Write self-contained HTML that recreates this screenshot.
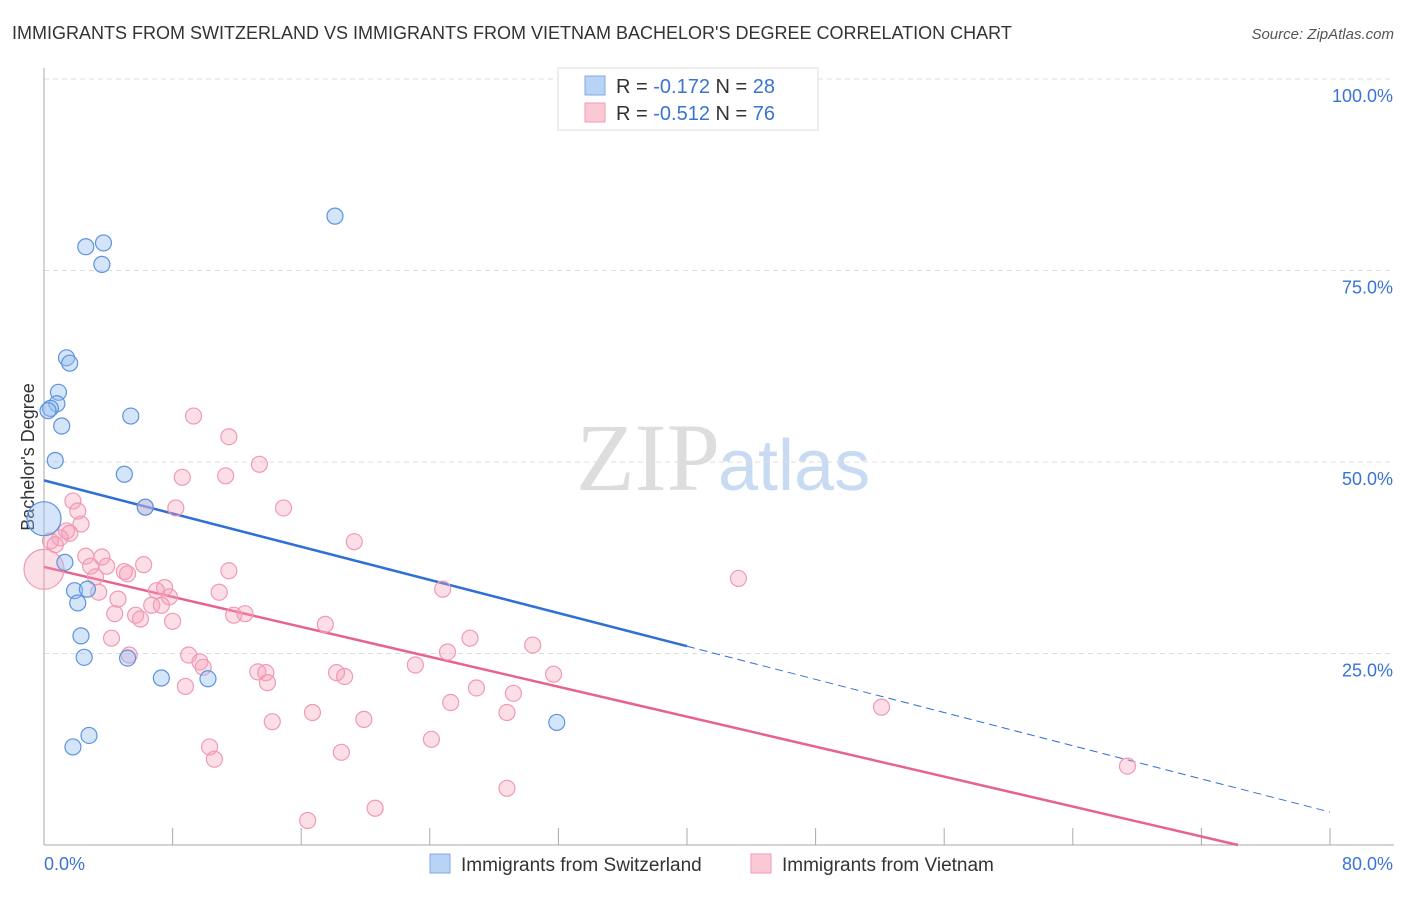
<!DOCTYPE html>
<html><head><meta charset="utf-8"><style>
body{margin:0;background:#fff;font-family:"Liberation Sans",sans-serif}
</style></head><body>
<svg width="1406" height="892" xmlns="http://www.w3.org/2000/svg" id="chart">
<text x="12" y="39" font-size="18" fill="#333">IMMIGRANTS FROM SWITZERLAND VS IMMIGRANTS FROM VIETNAM BACHELOR'S DEGREE CORRELATION CHART</text>
<text x="1394" y="39" font-size="15" fill="#555" font-style="italic" text-anchor="end">Source: ZipAtlas.com</text>
<text x="720" y="490" font-size="96" fill="#ddd" text-anchor="end" font-family="Liberation Serif">ZIP</text>
<text x="718" y="490" font-size="72" fill="#c9dbf2">atlas</text>
<text transform="translate(34,457) rotate(-90)" font-size="18" fill="#333" text-anchor="middle">Bachelor's Degree</text>
<g id="grid"></g><g id="axes"></g><g id="lines"></g><g id="pts"></g>
<g>
<rect x="558" y="68" width="260" height="62" fill="#fff" stroke="#ddd"/>
<rect x="585" y="76" width="20" height="19" fill="#b8d3f5" stroke="#7fa9e0"/>
<rect x="585" y="103" width="20" height="19" fill="#fbc8d6" stroke="#f09ab2"/>
<text x="616" y="93" font-size="20" fill="#333">R = <tspan fill="#3a73d6">-0.172</tspan>   N = <tspan fill="#3a73d6">28</tspan></text>
<text x="616" y="120" font-size="20" fill="#333">R = <tspan fill="#3a73d6">-0.512</tspan>   N = <tspan fill="#3a73d6">76</tspan></text>
</g>
<g>
<rect x="430" y="854" width="20" height="19" fill="#b8d3f5" stroke="#7fa9e0"/>
<text x="461" y="871" font-size="19" fill="#333">Immigrants from Switzerland</text>
<rect x="751" y="854" width="20" height="19" fill="#fbc8d6" stroke="#f09ab2"/>
<text x="782" y="871" font-size="19" fill="#333">Immigrants from Vietnam</text>
</g>
</svg>
<script>
const yTicks=[25,50,75,100];
const yTickLabels=["25.0%","50.0%","75.0%","100.0%"];
const xTickCount=10;
const blueX=[18.1,2.6,3.7,3.6,1.4,1.6,0.9,0.8,0.4,0.25,1.1,5.4,0.7,5.0,6.3,0.0,1.3,1.9,2.7,2.1,2.3,2.5,5.2,7.3,10.2,31.9,2.8,1.8];
const blueY=[82.1,78.1,78.6,75.8,63.6,62.9,59.1,57.6,57.0,56.7,54.7,56.0,50.2,48.4,44.1,42.6,36.9,33.2,33.4,31.6,27.3,24.5,24.4,21.8,21.7,16.0,14.3,12.8];
const blueR=[8,8,8,8,8,8,8,8,8,8,8,8,8,8,8,17,8,8,8,8,8,8,8,8,8,8,8,8];
const pinkX=[9.3,11.5,13.4,11.3,8.6,1.8,2.1,8.2,6.3,14.9,2.3,1.4,1.6,1.0,0.4,0.7,19.3,2.6,3.6,2.9,3.9,6.2,11.5,5.0,5.2,3.2,7.5,7.0,7.8,10.9,24.8,43.2,3.4,4.6,6.7,7.3,4.4,5.7,6.0,11.8,12.5,8.0,17.5,26.5,4.2,30.4,9.0,25.1,5.3,9.7,9.9,23.1,13.3,13.8,13.9,18.2,18.7,31.7,26.9,29.2,8.8,25.3,28.8,16.7,19.9,14.2,52.1,10.3,24.1,18.5,10.6,67.4,28.8,20.6,16.4,0.0];
const pinkY=[56.0,53.3,49.7,48.2,48.0,44.9,43.6,44.0,44.1,44.0,41.9,41.0,40.7,40.1,39.7,39.2,39.6,37.7,37.6,36.4,36.4,36.6,35.8,35.7,35.4,35.0,33.6,33.2,32.4,33.0,33.4,34.8,33.0,32.1,31.3,31.3,30.2,30.0,29.5,30.0,30.2,29.2,28.8,27.0,27.0,26.1,24.8,25.2,24.8,23.9,23.2,23.5,22.6,22.5,21.2,22.5,22.0,22.3,20.5,19.8,20.7,18.6,17.3,17.3,16.4,16.1,18.0,12.8,13.8,12.1,11.2,10.3,7.4,4.8,3.2,36.0];
const pinkR=[8,8,8,8,8,8,8,8,8,8,8,8,8,8,8,8,8,8,8,8,8,8,8,8,8,8,8,8,8,8,8,8,8,8,8,8,8,8,8,8,8,8,8,8,8,8,8,8,8,8,8,8,8,8,8,8,8,8,8,8,8,8,8,8,8,8,8,8,8,8,8,8,8,8,8,20];
const blueLine=[47.6,4.3];
const pinkLine=[36.3,-2.8];
const NS="http://www.w3.org/2000/svg";
const X=v=>44+v*16.075, Y=v=>845-v*7.66;
function mk(t,a,p){const e=document.createElementNS(NS,t);for(const k in a)e.setAttribute(k,a[k]);p.appendChild(e);return e;}
const grid=document.getElementById('grid'),axes=document.getElementById('axes'),lines=document.getElementById('lines'),pts=document.getElementById('pts');
yTicks.forEach((t,i)=>{
 const l=mk('line',{x1:44,x2:1394,y1:Y(t),y2:Y(t),stroke:'#ddd','stroke-dasharray':'5,4'},grid);
 
 
 const tx=mk('text',{x:1393,y:Y(t)+23,'font-size':18,fill:'#3a73d6','text-anchor':'end'},axes);
 tx.textContent=yTickLabels[i];
 
 
});
const ax=mk('line',{x1:44,x2:44,y1:68,y2:845,stroke:'#aaa'},axes);


const bx=mk('line',{x1:44,x2:1394,y1:845,y2:845,stroke:'#aaa'},axes);


for(let i=0;i<=xTickCount;i++){
 const t=mk('line',{x1:X(i*8),x2:X(i*8),y1:828,y2:845,stroke:'#aaa'},axes);
 
 
}
const xl0=mk('text',{x:44,y:870,'font-size':18,fill:'#3a73d6'},axes);xl0.textContent='0.0%';


const xl1=mk('text',{x:1393,y:870,'font-size':18,fill:'#3a73d6','text-anchor':'end'},axes);xl1.textContent='80.0%';


// regression lines
const by=x=>blueLine[0]+(blueLine[1]-blueLine[0])*x/80;
const b1=mk('line',{x1:X(0),y1:Y(by(0)),x2:X(40),y2:Y(by(40)),stroke:'#2f6fd6','stroke-width':2.5},lines);


const b2=mk('line',{x1:X(40),y1:Y(by(40)),x2:X(80),y2:Y(by(80)),stroke:'#2f6fd6','stroke-width':1,'stroke-dasharray':'8,5'},lines);


const py=x=>pinkLine[0]+(pinkLine[1]-pinkLine[0])*x/80;
const x0=Math.min(80,pinkLine[0]/(pinkLine[0]-pinkLine[1])*80);
const p1=mk('line',{x1:X(0),y1:Y(py(0)),x2:X(x0),y2:Y(py(x0)),stroke:'#e8628e','stroke-width':2.5},lines);


pinkX.forEach((x,i)=>{
 const c=mk('circle',{cx:X(x),cy:Y(pinkY[i]),r:pinkR[i],fill:'rgba(246,160,186,0.35)',stroke:'#ef9ab4','stroke-width':1.2},pts);
 
 
});
blueX.forEach((x,i)=>{
 const c=mk('circle',{cx:X(x),cy:Y(blueY[i]),r:blueR[i],fill:'rgba(150,190,240,0.4)',stroke:'#5c93de','stroke-width':1.2},pts);
 
 
});
</script>
</body></html>
